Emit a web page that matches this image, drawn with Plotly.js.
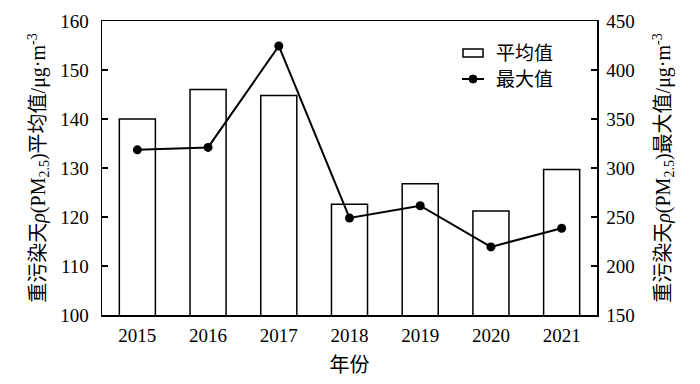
<!DOCTYPE html>
<html><head><meta charset="utf-8">
<script src="https://cdn.plot.ly/plotly-3.0.1.min.js"></script>
<style>html,body{margin:0;padding:0;background:#fff}#chart{width:700px;height:384px}</style>
</head><body><div id="chart"></div>
<script>
const years = ['2015','2016','2017','2018','2019','2020','2021'];
const meanValues = [140, 146, 144.8, 122.6, 126.8, 121.2, 129.7];
const maxValues = [318.5, 321, 424.5, 249, 261.5, 219.5, 238.5];
const meanName = '平均值';
const maxName = '最大值';
const xTitle = '年份';
const yTitle = '重污染天<i>ρ</i>(PM<sub>2.5</sub>)平均值/μg·m<sup>-3</sup>';
const y2Title = '重污染天<i>ρ</i>(PM<sub>2.5</sub>)最大值/μg·m<sup>-3</sup>';

const FONT = '"Liberation Serif", "Times New Roman", "Noto Sans CJK SC", serif';

const data = [
  {type:'bar', x: years, y: meanValues, name: meanName,
   marker:{color:'#ffffff', line:{color:'#000', width:1.5}}, yaxis:'y'},
  {type:'scatter', mode:'lines+markers', x: years, y: maxValues, name: maxName,
   line:{color:'#000', width:2}, marker:{color:'#000', size:9}, yaxis:'y2'}
];

// manual legend (paper coordinates: plot spans x 102..597, y 21..315)
const px = x => (x - 102) / 495;
const py = y => 1 - (y - 21) / 294;
const shapes = [
  {type:'rect', xref:'paper', yref:'paper', x0:px(463), x1:px(483), y0:py(49), y1:py(57),
   line:{color:'#000', width:1.5}, fillcolor:'#fff'},
  {type:'line', xref:'paper', yref:'paper', x0:px(462), x1:px(484), y0:py(79), y1:py(79),
   line:{color:'#000', width:2}},
  {type:'circle', xref:'paper', yref:'paper', x0:px(469), x1:px(477), y0:py(75), y1:py(83),
   line:{color:'#000', width:1}, fillcolor:'#000'}
];
const annotations = [
  {xref:'paper', yref:'paper', x:px(494), y:py(53), xanchor:'left', yanchor:'middle',
   text:meanName, showarrow:false, font:{size:19, family:FONT}},
  {xref:'paper', yref:'paper', x:px(494), y:py(79), xanchor:'left', yanchor:'middle',
   text:maxName, showarrow:false, font:{size:19, family:FONT}}
];

const layout = {
  width:700, height:384,
  margin:{l:102, r:103, t:21, b:69},
  paper_bgcolor:'#fff', plot_bgcolor:'#fff',
  font:{family:FONT, size:19, color:'#000'},
  bargap:0.49,
  showlegend:false,
  shapes: shapes,
  annotations: annotations,
  xaxis:{type:'category', showline:true, linecolor:'#000', linewidth:1.5, mirror:true,
         ticks:'', showgrid:false, zeroline:false, ticklabelstandoff:3,
         tickfont:{size:19, family:FONT},
         title:{text:xTitle, font:{size:20, family:FONT}, standoff:12}},
  yaxis:{range:[100,160], dtick:10, showline:true, linecolor:'#000', linewidth:1.5,
         ticks:'inside', ticklen:6, tickwidth:1.5, tickcolor:'#000', ticklabelstandoff:8,
         showgrid:false, zeroline:false, tickfont:{size:19, family:FONT},
         title:{text:yTitle, font:{size:20, family:FONT}, standoff:9}},
  yaxis2:{range:[150,450], dtick:50, overlaying:'y', side:'right',
          showline:true, linecolor:'#000', linewidth:1.5,
          ticks:'inside', ticklen:6, tickwidth:1.5, tickcolor:'#000', ticklabelstandoff:4,
          showgrid:false, zeroline:false, tickfont:{size:19, family:FONT},
          title:{text:y2Title, font:{size:20, family:FONT}, standoff:22}}
};

Plotly.newPlot('chart', data, layout, {displayModeBar:false, staticPlot:true});
</script>
</body></html>
